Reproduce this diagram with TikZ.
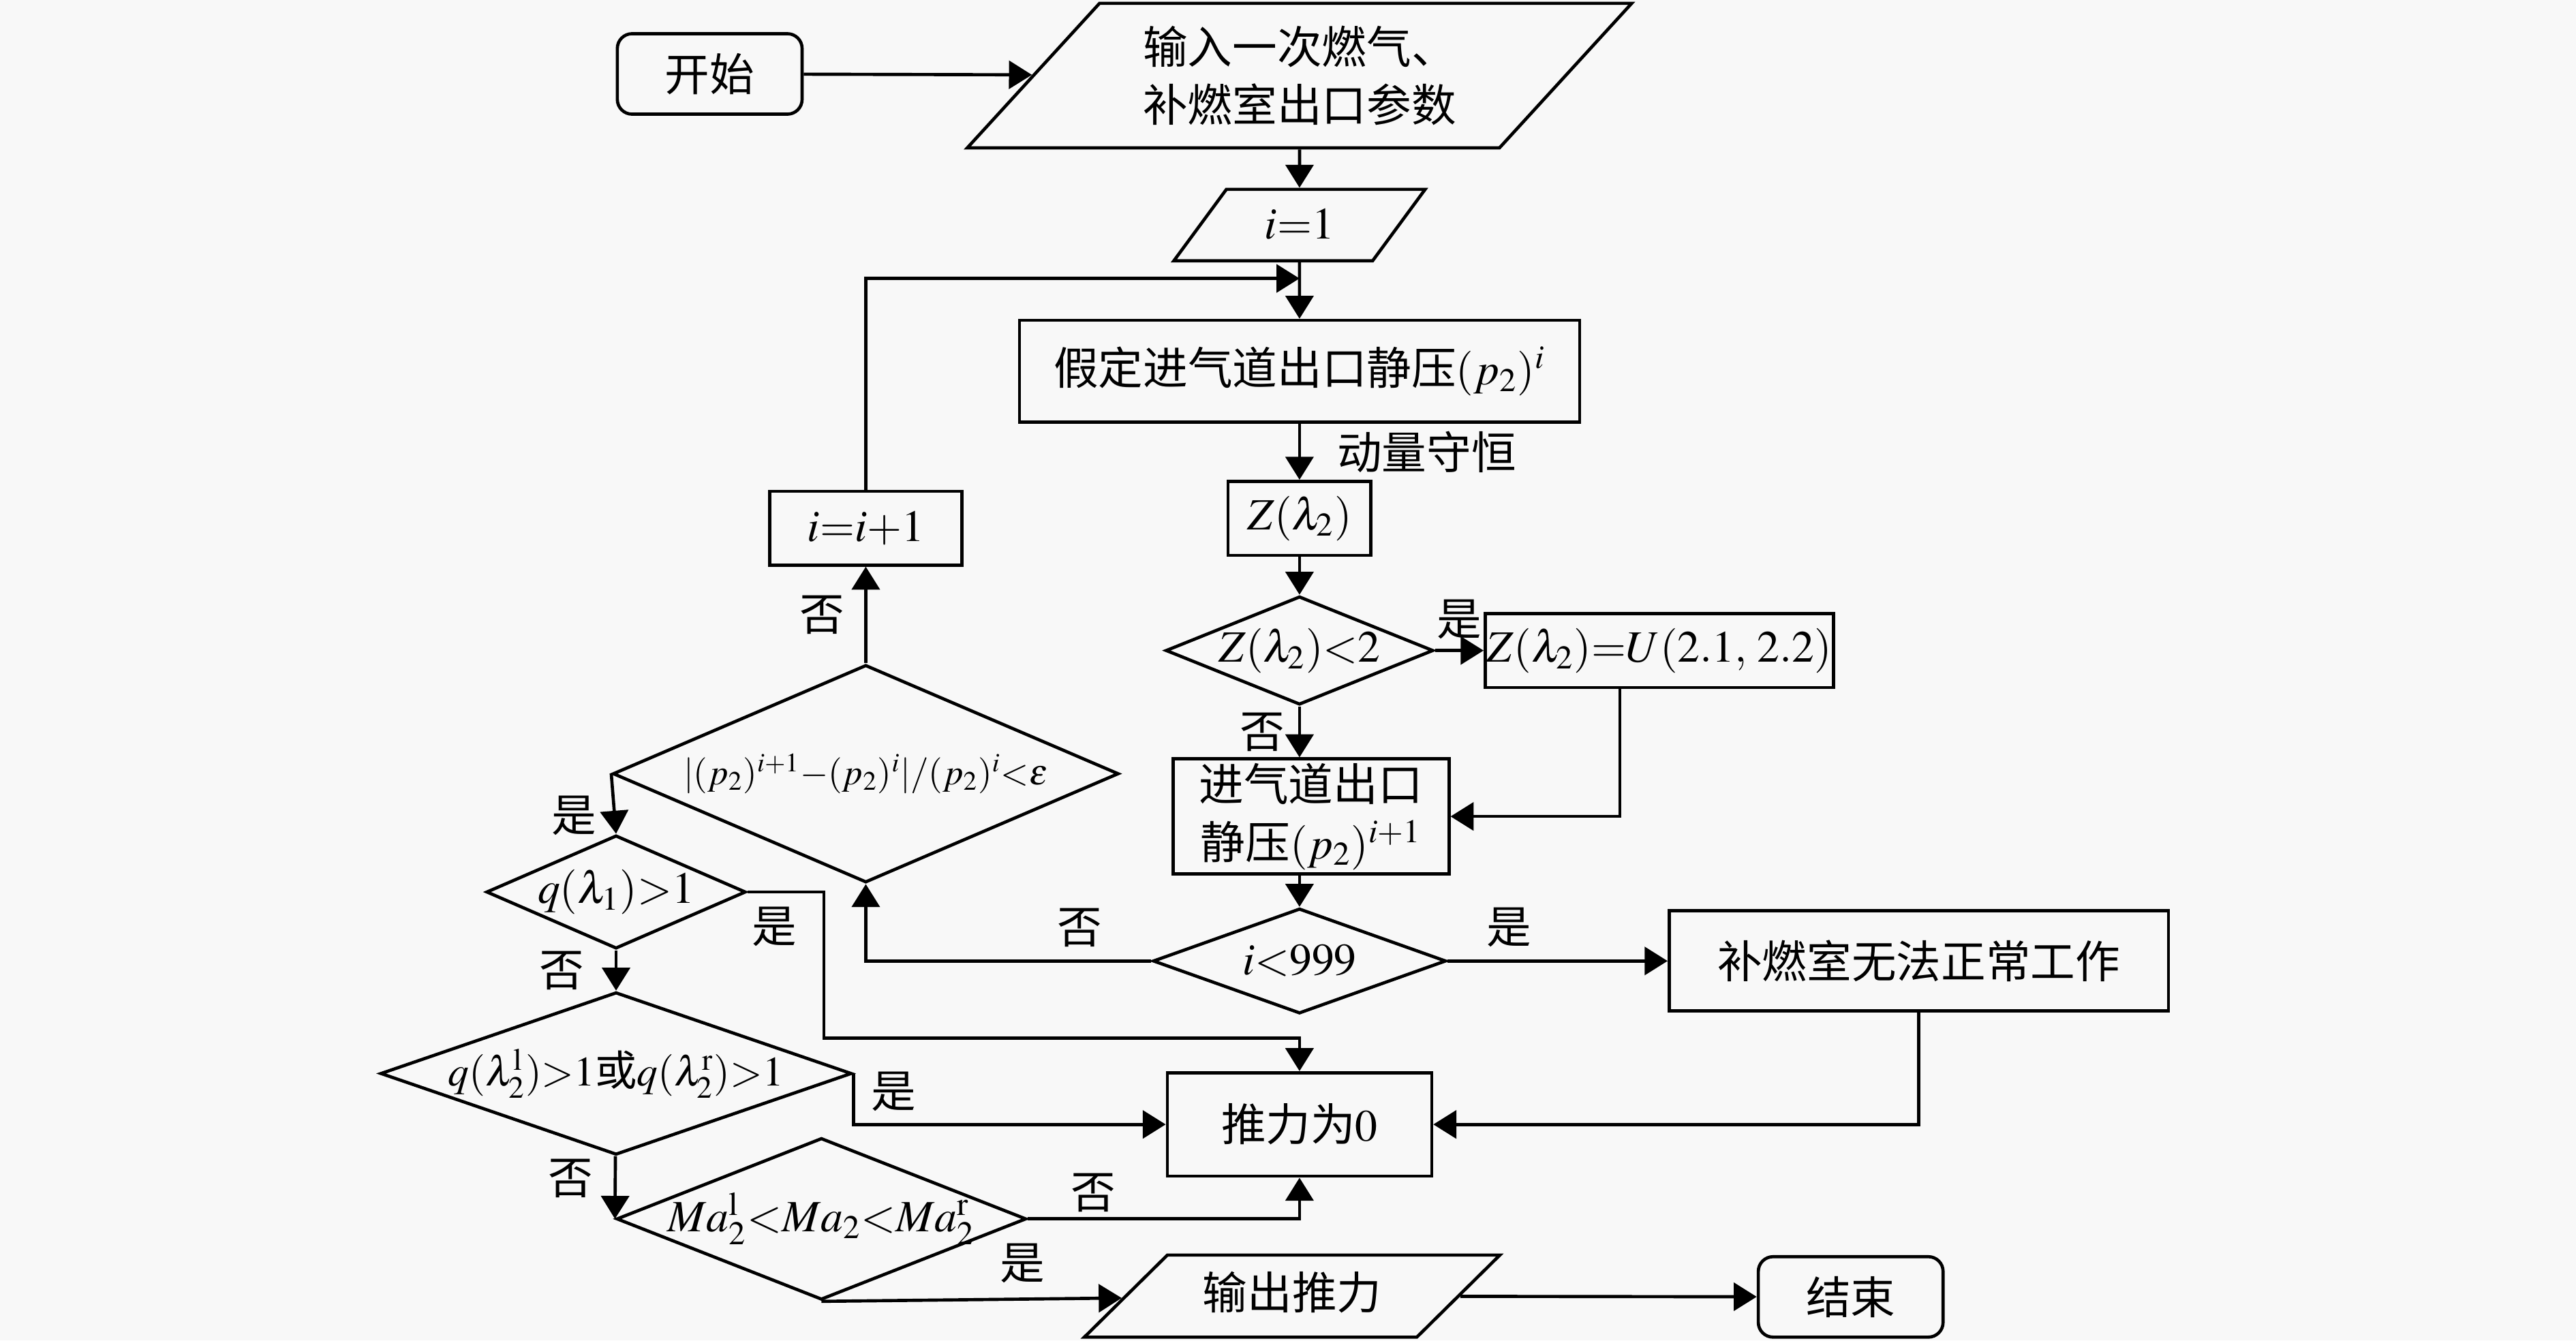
\documentclass[tikz,border=0pt]{standalone}
\usepackage{mathptmx}
\usepackage[no-math]{fontspec}
\setmainfont{Noto Sans CJK SC}
\usetikzlibrary{shapes.geometric,arrows.meta,calc}
\definecolor{paper}{RGB}{248,248,248}

\begin{document}
\begin{tikzpicture}[
  x = 0.02cm,
  y = -0.02cm,
  font = \fontsize{15.5}{20}\selectfont,
  line width = 1.1pt,
  box/.style = {
    draw,
    rectangle,
    inner sep = 0pt,
  },
  startstop/.style = {
    box,
    rounded corners = 0.18cm,
    minimum width = 2.25cm,
    minimum height = 0.98cm,
  },
  io/.style = {
    draw,
    trapezium,
    trapezium stretches body,
    inner sep = 0pt,
    text height = 0.45cm,
    text depth = 0.12cm,
  },
  decision/.style = {
    draw,
    diamond,
    inner sep = -0.15cm,
  },
  tag/.style = {
    inner sep = 0pt,
  },
  >={Triangle[length=0.28cm,width=0.34cm]},
]

  \useasboundingbox (0,0) rectangle (1568,816);
  \fill[paper] (0,0) rectangle (1568,816);

  % main column
  \node[startstop] (start) at (432,45) {开始};
  \node[io,trapezium left angle=36.7,trapezium right angle=143.3,
    minimum width=8.09cm,minimum height=1.76cm,text height=,text depth=] (in) at (791,46)
    {\parbox[c][1.2cm][c]{4.2cm}{\centering 输入一次燃气、\\补燃室出口参数}};
  \node[io,trapezium left angle=41.7,trapezium right angle=138.3,
    minimum width=3.06cm,minimum height=0.87cm] (i1) at (791,137) {$i{=}1$};
  \node[box,minimum width=6.82cm,minimum height=1.24cm] (assume) at (791,226)
    {假定进气道出口静压$(p_2)^i$};
  \node[box,minimum width=1.74cm,minimum height=0.9cm] (z) at (791,315.5) {$Z(\lambda_2)$};
  \node[decision,aspect=2.47,minimum width=3.26cm,minimum height=1.32cm] (zless) at (791,396)
    {$Z(\lambda_2){<}2$};
  \node[box,minimum width=4.24cm,minimum height=0.9cm] (zset) at (1010,396)
    {$Z(\lambda_2){=}U(2.1,\,2.2)$};
  \node[box,minimum width=3.36cm,minimum height=1.4cm,align=center] (pnew) at (798,497)
    {进气道出口\\静压$(p_2)^{i+1}$};
  \node[decision,aspect=2.79,minimum width=3.57cm,minimum height=1.28cm] (iless) at (791,585)
    {$i{<}999$};
  \node[box,minimum width=6.08cm,minimum height=1.22cm] (fail) at (1168,585) {补燃室无法正常工作};
  \node[box,minimum width=3.22cm,minimum height=1.26cm] (zero) at (791,684.5) {推力为$0$};
  \node[io,trapezium left angle=29.4,trapezium right angle=150.6,
    minimum width=5.06cm,minimum height=1.0cm] (out) at (786.5,789) {输出推力};
  \node[startstop] (stop) at (1126.5,789.5) {结束};

  % left branch
  \node[decision,aspect=2.32,minimum width=6.16cm,minimum height=2.65cm,
    font=\fontsize{12.5}{16}\selectfont] (conv) at (527,471)
    {$|(p_2)^{i+1}{-}(p_2)^i|/(p_2)^i{<}\varepsilon$};
  \node[box,minimum width=2.34cm,minimum height=0.9cm] (inc) at (527,321.5) {$i{=}i{+}1$};
  \node[decision,aspect=2.29,minimum width=3.16cm,minimum height=1.38cm] (qone) at (375,543)
    {$q(\lambda_1){>}1$};
  \node[decision,aspect=2.9,minimum width=5.74cm,minimum height=1.98cm,
    font=\fontsize{14.5}{18}\selectfont] (qtwo) at (375,653.5)
    {$q(\lambda_2^{\mathrm{l}}){>}1$或$q(\lambda_2^{\mathrm{r}}){>}1$};
  \node[decision,aspect=2.53,minimum width=4.99cm,minimum height=1.97cm] (mach) at (500,742)
    {$Ma_2^{\mathrm{l}}{<}Ma_2{<}Ma_2^{\mathrm{r}}$};

  \coordinate (join) at (791,169.5);

  \draw[->] (start) -- (in);
  \draw[->] (in) -- (i1);
  \draw[->] (i1) -- (assume);
  \draw[->] (inc) |- (join);
  \draw[->] (assume) -- node[tag,right=0.44cm] {动量守恒} (z);
  \draw[->] (z) -- (zless);
  \draw[->] (zless) -- node[tag,above=0.12cm] {是} (zset);
  \draw[->] (zless) -- node[tag,left=0.16cm] {否} (zless |- pnew.north);
  \draw[->] ([xshift=-0.48cm]zset.south) |- (pnew);
  \draw[->] (pnew.south -| iless.north) -- (iless);
  \draw[->] (iless) -- node[tag,above=0.15cm,pos=0.28] {是} (fail);
  \draw[->] (iless) -| node[tag,above=0.15cm,pos=0.125] {否} (conv);
  \draw[->] (conv) -- node[tag,left=0.24cm] {否} (inc);
  \draw[->] (conv.west) -- node[tag,left=0.2cm,pos=0.7] {是} (qone.north);
  \draw[->] (qone.east) -- node[tag,below=0.16cm,pos=0.35] {是} ++(0.93cm,0)
    |- ([yshift=0.4cm]zero.north) -- (zero.north);
  \draw[->] (qone) -- node[tag,left=0.37cm] {否} (qtwo);
  \draw[->] (qtwo.east) |- node[tag,right=0.2cm,pos=0.18] {是} (zero);
  \draw[->] (qtwo) -- node[tag,left=0.25cm,pos=0.35] {否} (mach.west);
  \draw[->] (mach.east) -| node[tag,above=0.06cm,pos=0.12] {否} (zero);
  \draw[->] (mach.south) -- node[tag,above=0.18cm,pos=0.67] {是} (out);
  \draw[->] (out) -- (stop);
  \draw[->] (fail) |- (zero);

\end{tikzpicture}
\end{document}
